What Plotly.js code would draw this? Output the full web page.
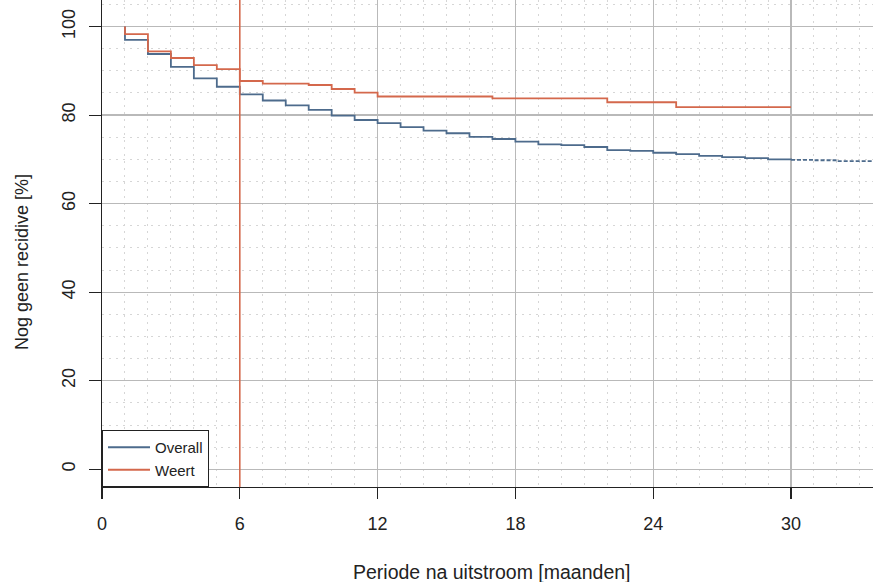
<!DOCTYPE html>
<html>
<head>
<meta charset="utf-8">
<script src="https://cdn.plot.ly/plotly-3.0.1.min.js"></script>
<style>html,body{margin:0;padding:0;background:#fff;}#chart{width:873px;height:582px;}</style>
</head>
<body>
<div id="chart"></div>
<script>
// ---- data ----
const startValue = 100;
const overallMonths = [1, 1, 2, 3, 4, 5, 6, 7, 8, 9, 10, 11, 12, 13, 14, 15, 16, 17, 18, 19, 20, 21, 22, 23, 24, 25, 26, 27, 28, 29, 30];
const overallValues = [startValue, 97.0, 93.8, 90.9, 88.3, 86.4, 84.7, 83.3, 82.2, 81.2, 79.9, 78.9, 78.2, 77.3, 76.5, 75.9, 75.1, 74.6, 74.0, 73.4, 73.2, 72.8, 72.1, 71.9, 71.5, 71.2, 70.8, 70.5, 70.3, 70.0, 69.9];
const overallTailMonths = [30, 31, 32, 34];
const overallTailValues = [69.9, 69.8, 69.6, 69.6];
const weertMonths = [1, 1, 2, 3, 4, 5, 6, 7, 9, 10, 11, 12, 17, 22, 25, 30];
const weertValues = [startValue, 98.3, 94.4, 92.9, 91.3, 90.4, 87.7, 87.1, 86.8, 85.9, 85.1, 84.2, 83.8, 82.9, 81.8, 81.8];
const seriesNames = ["Overall", "Weert"];
const cutoffMonth = 6;
const xTicks = [0, 6, 12, 18, 24, 30];
const yTicks = [0, 20, 40, 60, 80, 100];
const xTitle = "Periode na uitstroom [maanden]";
const yTitle = "Nog geen recidive [%]";

// ---- styles ----
const blue = "#4d6b8c";
const red = "#d4684c";
const FONT = "Liberation Sans, Arial, sans-serif";

const traces = [
  {x: overallMonths, y: overallValues, name: seriesNames[0], mode: "lines",
   line: {shape: "hv", color: blue, width: 1.8}, hoverinfo: "skip"},
  {x: overallTailMonths, y: overallTailValues, name: seriesNames[0] + " (tail)", mode: "lines",
   showlegend: false, line: {shape: "hv", color: blue, width: 1.8, dash: "4px,2px"}, hoverinfo: "skip"},
  {x: weertMonths, y: weertValues, name: seriesNames[1], mode: "lines",
   line: {shape: "hv", color: red, width: 1.8}, hoverinfo: "skip"}
];

const gridMajor = "#b9b9b9";
const gridMinor = "#d6d6d6";

const layout = {
  width: 873, height: 582,
  margin: {l: 102, r: 0, t: 0, b: 95, pad: 0},
  paper_bgcolor: "#fff", plot_bgcolor: "#fff",
  font: {family: FONT, color: "#222", size: 18},
  showlegend: true,
  legend: {x: 0, y: 0, xanchor: "left", yanchor: "bottom", bgcolor: "#fff",
           bordercolor: "#222", borderwidth: 1, font: {size: 15, family: FONT, color: "#222"},
           itemwidth: 42, tracegroupgap: 0},
  xaxis: {
    range: [0, 33.57], tickvals: xTicks, ticktext: xTicks.map(String),
    showgrid: true, gridcolor: gridMajor, gridwidth: 1.3, zeroline: false,
    showline: true, linecolor: "#222", linewidth: 1.2,
    ticks: "outside", ticklen: 11, tickcolor: "#222", tickwidth: 1.2,
    ticklabelstandoff: 9,
    tickfont: {size: 18, family: FONT, color: "#222"},
    minor: {dtick: 1, tick0: 0, showgrid: true, gridcolor: gridMinor, griddash: "2px,5px", gridwidth: 1},
    automargin: false,
    fixedrange: true
  },
  yaxis: {
    range: [-4.0, 106.0], tickvals: yTicks, ticktext: yTicks.map(String), tickangle: -90,
    showgrid: true, gridcolor: gridMajor, gridwidth: 1.3, zeroline: false,
    showline: true, linecolor: "#222", linewidth: 1.2,
    ticks: "outside", ticklen: 12, tickcolor: "#222", tickwidth: 1.2,
    ticklabelstandoff: 7,
    tickfont: {size: 18, family: FONT, color: "#222"},
    minor: {dtick: 5, tick0: 0, showgrid: true, gridcolor: gridMinor, griddash: "2px,5px", gridwidth: 1},
    automargin: false,
    fixedrange: true
  },
  annotations: [
    {text: xTitle, xref: "paper", yref: "paper", x: 0.506, y: 0, yshift: -85,
     xanchor: "center", yanchor: "middle", showarrow: false,
     font: {size: 19.5, family: FONT, color: "#222"}},
    {text: yTitle, xref: "paper", yref: "paper", x: 0, xshift: -80, y: 0.462,
     xanchor: "center", yanchor: "middle", textangle: -90, showarrow: false,
     font: {size: 18, family: FONT, color: "#222"}}
  ],
  shapes: [
    {type: "line", xref: "x", yref: "paper", x0: cutoffMonth, x1: cutoffMonth, y0: 0, y1: 1,
     line: {color: red, width: 1.6}, layer: "above"}
  ]
};

Plotly.newPlot("chart", traces, layout, {displayModeBar: false, staticPlot: true});
</script>
</body>
</html>
